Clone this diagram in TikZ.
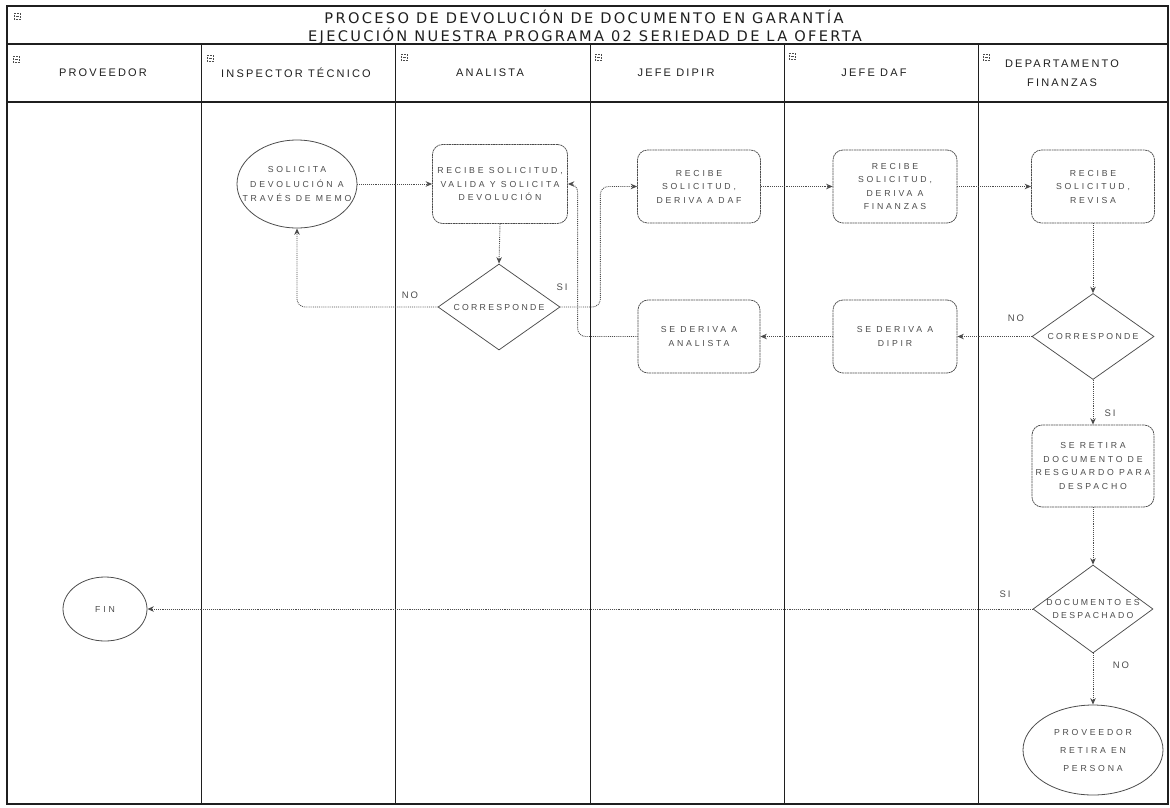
\documentclass[tikz,border=0pt]{standalone}
\usepackage{fontspec}
\setmainfont{Liberation Sans}
\newfontfamily\titlefont[LetterSpace=16]{DejaVu Sans}
\newfontfamily\headfont[LetterSpace=20]{Liberation Sans}
\newfontfamily\nodefont[LetterSpace=32]{Liberation Sans}
\newfontfamily\decfont[LetterSpace=26]{Liberation Sans}
\usetikzlibrary{shapes.geometric,arrows.meta}
\definecolor{ink}{gray}{0.12}
\definecolor{faint}{gray}{0.3}
\tikzset{
  frame/.style={draw=ink,line width=1.1pt},
  lane/.style={draw=ink,line width=0.9pt},
  proc/.style={rectangle,draw=faint,rounded corners=10pt,dash pattern=on 2pt off 0.6pt,line width=0.75pt,
    minimum width=123pt,minimum height=73pt,inner sep=0pt,align=center,text=faint,
    font=\nodefont\fontsize{8.7}{13.5}\selectfont},
  dec/.style={diamond,draw=faint,line width=0.75pt,minimum width=122pt,minimum height=86pt,inner sep=0pt},
  term/.style={ellipse,draw=faint,line width=0.8pt,inner sep=0pt},
  inner/.style={align=center,text=faint,inner sep=0pt,font=\nodefont\fontsize{8.7}{14.5}\selectfont},
  decin/.style={align=center,text=faint,inner sep=0pt,font=\decfont\fontsize{8.7}{13}\selectfont},
  conn/.style={draw=faint,densely dotted,line width=0.9pt,rounded corners=8pt,
    -{Stealth[length=6.5pt,width=5.5pt]}},
  lbl/.style={text=faint,inner sep=0pt,font=\headfont\fontsize{9.5}{11}\selectfont},
  head/.style={text=ink,inner sep=0pt,align=center,font=\headfont\fontsize{11}{19}\selectfont},
  ttl/.style={text=ink,inner sep=0pt,font=\titlefont\fontsize{14.6}{16}\selectfont},
  icon/.style={rectangle,draw=faint,densely dotted,line width=0.5pt,minimum width=6pt,minimum height=6pt,inner sep=0pt,
    path picture={\draw[faint,solid,line width=0.5pt] ([xshift=1.5pt]path picture bounding box.west) -- ([xshift=-1.5pt]path picture bounding box.east);}}
}
\begin{document}
\begin{tikzpicture}[x=1pt,y=-1pt]
\useasboundingbox (0,0) rectangle (1170,807);
% frame and lanes
\draw[frame] (7,6) rectangle (1168,804);
\draw[frame] (7,44) -- (1168,44);
\draw[frame] (7,102) -- (1168,102);
\foreach \x in {201,395,590,784,978}{\draw[lane] (\x,44) -- (\x,804);}
% icons
\node[icon] (ic0) at (17,16) {};
\node[icon] (ic1) at (16,59) {};
\node[icon] (ic2) at (210,58) {};
\node[icon] (ic3) at (404,57) {};
\node[icon] (ic4) at (598,57) {};
\node[icon] (ic5) at (792,56) {};
\node[icon] (ic6) at (986,57) {};
% title
\node[ttl] (t1) at (584,17) {PROCESO DE DEVOLUCIÓN DE DOCUMENTO EN GARANTÍA};
\node[ttl] (t2) at (585,36) {EJECUCIÓN NUESTRA PROGRAMA 02 SERIEDAD DE LA OFERTA};
% headers
\node[head] (h1) at (103,73) {PROVEEDOR};
\node[head] (h2) at (296,73) {INSPECTOR TÉCNICO};
\node[head] (h3) at (490,73) {ANALISTA};
\node[head] (h4) at (676,73) {JEFE DIPIR};
\node[head] (h5) at (874,73) {JEFE DAF};
\node[head] (h6) at (1062,73) {DEPARTAMENTO\\FINANZAS};
% nodes
\node[term,minimum width=120pt,minimum height=88pt] (sol) at (297,184) {};
\node[inner] (solt) at (sol) {SOLICITA\\DEVOLUCIÓN A\\TRAVÉS DE MEMO};
\node[proc,minimum width=135pt,minimum height=79pt] (rv) at (500,184) {RECIBE SOLICITUD,\\VALIDA Y SOLICITA\\DEVOLUCIÓN};
\node[dec] (d1) at (499,307) {};
\node[decin] (d1t) at (d1) {CORRESPONDE};
\node[proc] (dipir) at (699,186.5) {RECIBE\\SOLICITUD,\\DERIVA A DAF};
\node[proc,minimum width=124pt] (daf) at (895,186.5) {RECIBE\\SOLICITUD,\\DERIVA A\\FINANZAS};
\node[proc] (rev) at (1093,186.5) {RECIBE\\SOLICITUD,\\REVISA};
\node[dec] (d2) at (1093,336.5) {};
\node[decin] (d2t) at (d2) {CORRESPONDE};
\node[proc,minimum width=124pt] (sdipir) at (895,336.5) {SE DERIVA A\\DIPIR};
\node[proc,minimum width=122pt] (sana) at (699,336.5) {SE DERIVA A\\ANALISTA};
\node[proc,minimum width=122pt,minimum height=82pt] (ret) at (1093,466) {SE RETIRA\\DOCUMENTO DE\\RESGUARDO PARA\\DESPACHO};
\node[dec,minimum width=120pt,minimum height=88pt] (d3) at (1093,609) {};
\node[decin] (d3t) at (d3) {DOCUMENTO ES\\DESPACHADO};
\node[term,minimum width=84pt,minimum height=64pt] (fin) at (105,609) {};
\node[inner] (fint) at (fin) {FIN};
\node[term,minimum width=140pt,minimum height=90pt] (prov) at (1093,750) {};
\node[inner,font=\nodefont\fontsize{8.7}{18}\selectfont] (provt) at (prov) {PROVEEDOR\\RETIRA EN\\PERSONA};
% connectors
\draw[conn] (sol.east) -- (rv.west);
\draw[conn] (rv.south) -- (d1.north);
\draw[conn] (d1.west) -| (sol.south);
\draw[conn] (d1.east) -- ++(40,0) |- (dipir.west);
\draw[conn] (dipir.east) -- (daf.west);
\draw[conn] (daf.east) -- (rev.west);
\draw[conn] (rev.south) -- (d2.north);
\draw[conn] (d2.west) -- (sdipir.east);
\draw[conn] (sdipir.west) -- (sana.east);
\draw[conn] (sana.west) -- ++(-60,0) |- (rv.east);
\draw[conn] (d2.south) -- (ret.north);
\draw[conn] (ret.south) -- (d3.north);
\draw[conn] (d3.west) -- (fin.east);
\draw[conn] (d3.south) -- (prov.north);
% labels
\node[lbl] (lno1) at (410,295) {NO};
\node[lbl] (lsi1) at (562,287) {SI};
\node[lbl] (lno2) at (1016,318) {NO};
\node[lbl] (lsi2) at (1110,413) {SI};
\node[lbl] (lsi3) at (1005,594) {SI};
\node[lbl] (lno3) at (1121,665) {NO};
\end{tikzpicture}
\end{document}
